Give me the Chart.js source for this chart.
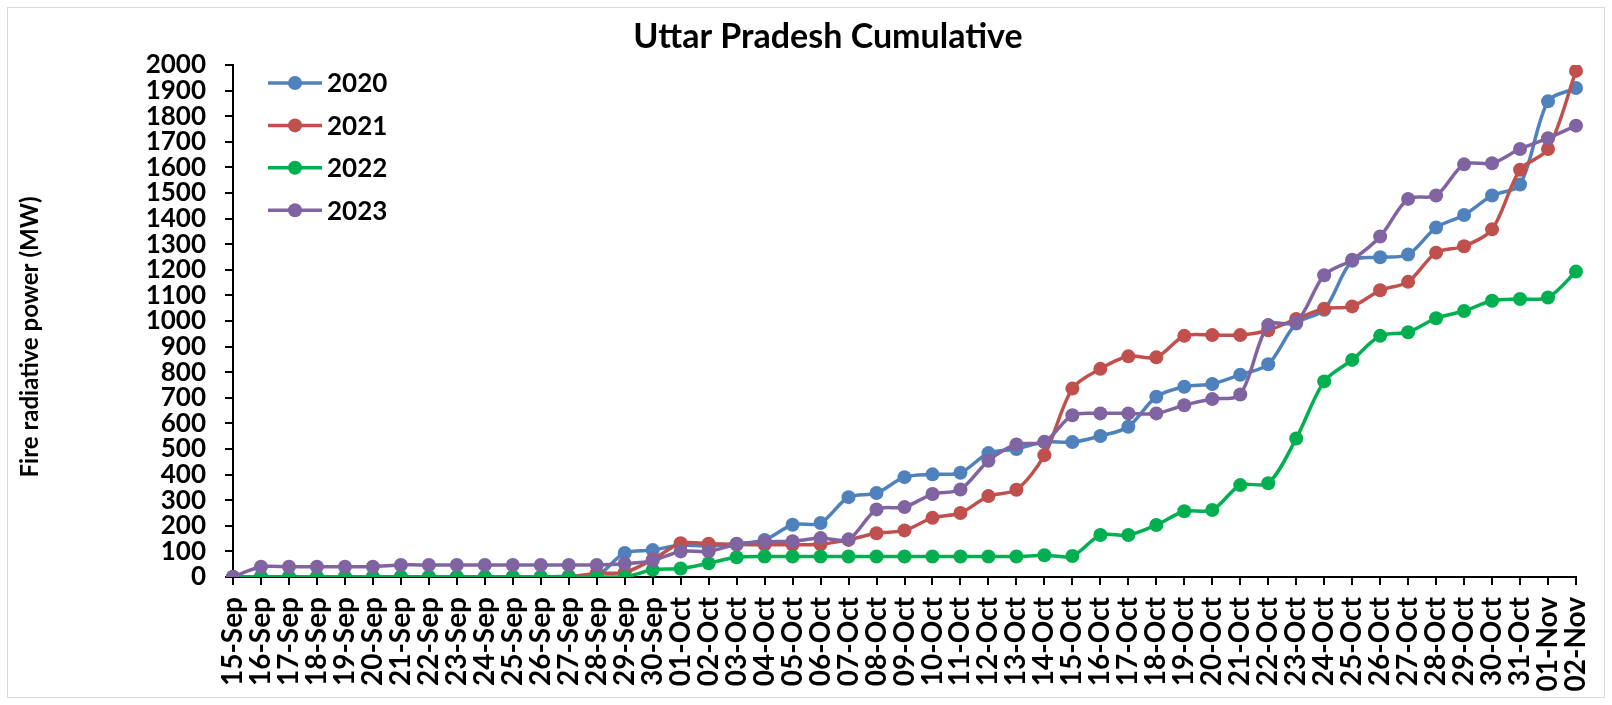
<!DOCTYPE html>
<html lang="en">
<head>
  <meta charset="UTF-8">
  <title>Uttar Pradesh Cumulative</title>
  <style>
    html, body { margin: 0; padding: 0; background: #ffffff; }
    canvas { display: block; }
  </style>
</head>
<body>

  <canvas id="myChart" width="1612" height="705"></canvas>

  <script src="https://cdn.jsdelivr.net/npm/chart.js"></script>
  <script>
const labels = ['15-Sep', '16-Sep', '17-Sep', '18-Sep', '19-Sep', '20-Sep', '21-Sep', '22-Sep', '23-Sep', '24-Sep',
  '25-Sep', '26-Sep', '27-Sep', '28-Sep', '29-Sep', '30-Sep', '01-Oct', '02-Oct', '03-Oct', '04-Oct',
  '05-Oct', '06-Oct', '07-Oct', '08-Oct', '09-Oct', '10-Oct', '11-Oct', '12-Oct', '13-Oct', '14-Oct',
  '15-Oct', '16-Oct', '17-Oct', '18-Oct', '19-Oct', '20-Oct', '21-Oct', '22-Oct', '23-Oct', '24-Oct',
  '25-Oct', '26-Oct', '27-Oct', '28-Oct', '29-Oct', '30-Oct', '31-Oct', '01-Nov', '02-Nov'];

// cumulative fire radiative power (MW)
const frp2020 = [0, 0, 0, 0, 0, 0, 0, 0, 0, 0, 0, 0, 3, 5, 94, 105, 125, 120, 130, 145,
  204, 211, 312, 328, 390, 401, 407, 484, 500, 527, 527, 551, 587, 704, 743, 754, 790, 831, 990, 1044,
  1235, 1249, 1260, 1365, 1414, 1490, 1533, 1858, 1910];
const frp2021 = [0, 0, 0, 0, 0, 0, 0, 0, 0, 0, 0, 0, 0, 15, 18, 68, 132, 130, 127, 126,
  126, 128, 145, 171, 182, 231, 250, 316, 341, 476, 736, 813, 862, 858, 942, 945, 945, 964, 1008, 1048,
  1057, 1120, 1153, 1267, 1292, 1358, 1591, 1672, 1977];
const frp2022 = [0, 0, 0, 0, 0, 0, 0, 0, 0, 0, 0, 0, 0, 0, 0, 28, 33, 54, 77, 80,
  80, 80, 80, 80, 80, 80, 80, 80, 80, 85, 82, 164, 164, 203, 257, 262, 359, 366, 541, 764,
  848, 942, 956, 1011, 1039, 1079, 1086, 1092, 1193];
const frp2023 = [0, 40, 40, 40, 40, 40, 47, 47, 47, 47, 47, 47, 47, 47, 52, 64, 100, 100, 128, 138,
  140, 152, 147, 264, 273, 324, 342, 454, 518, 528, 632, 639, 639, 639, 671, 695, 713, 984, 995, 1179,
  1239, 1330, 1477, 1490, 1612, 1616, 1672, 1714, 1763];

const seriesNames = ['2020', '2021', '2022', '2023'];
const seriesColors = ['#4F81BD', '#C0504D', '#00B050', '#8064A2'];
const yTicks = { min: 0, max: 2000, step: 100 };

const FONT = 'Lato, "Open Sans", sans-serif';

// frame, title, y title and legend drawn on the canvas
const decorPlugin = {
  id: 'decorPlugin',
  beforeDraw: (chart) => {
    const ctx = chart.ctx;
    ctx.save();
    ctx.fillStyle = '#ffffff';
    ctx.fillRect(0, 0, chart.width, chart.height);
    ctx.strokeStyle = '#d9d9d9';
    ctx.lineWidth = 1;
    ctx.strokeRect(7.5, 7.5, chart.width - 15, chart.height - 15);
    ctx.restore();
  },
  afterDraw: (chart) => {
    const ctx = chart.ctx;
    ctx.save();
    ctx.fillStyle = '#000000';
    ctx.textBaseline = 'middle';

    ctx.font = 'bold 34px ' + FONT;
    ctx.textAlign = 'center';
    ctx.fillText('Uttar Pradesh Cumulative', 828, 37);

    ctx.save();
    ctx.translate(30, 337);
    ctx.rotate(-Math.PI / 2);
    ctx.font = 'bold 24px ' + FONT;
    ctx.fillText('Fire radiative power (MW)', 0, 0);
    ctx.restore();

    // legend: line + marker, like the original
    ctx.font = 'bold 26px ' + FONT;
    ctx.textAlign = 'left';
    chart.data.datasets.forEach((ds, i) => {
      const y = 83 + i * 42.4;
      ctx.strokeStyle = ds.borderColor;
      ctx.lineWidth = 3.5;
      ctx.beginPath();
      ctx.moveTo(268, y);
      ctx.lineTo(322, y);
      ctx.stroke();
      ctx.fillStyle = ds.borderColor;
      ctx.beginPath();
      ctx.arc(295, y, 7, 0, Math.PI * 2);
      ctx.fill();
      ctx.fillStyle = '#000000';
      ctx.fillText(ds.label, 327, y + 1);
    });
    ctx.restore();
  }
};

const seriesData = [frp2020, frp2021, frp2022, frp2023];

const ctx = document.getElementById('myChart').getContext('2d');
const myChart = new Chart(ctx, {
  type: 'line',
  data: {
    labels: labels,
    datasets: seriesNames.map((name, i) => ({
      label: name,
      data: seriesData[i],
      borderColor: seriesColors[i],
      backgroundColor: seriesColors[i],
      pointBackgroundColor: seriesColors[i],
      pointBorderWidth: 0,
      pointRadius: 7,
      borderWidth: 3.5,
      tension: 0.3,
      fill: false,
      order: seriesNames.length - i
    }))
  },
  options: {
    responsive: false,
    animation: false,
    events: [],
    layout: {
      padding: { top: 65, left: 0, right: 36, bottom: 0 }
    },
    scales: {
      x: {
        offset: false,
        afterFit: (scale) => {
          scale.height = 128;
          scale.paddingLeft = 0;
          scale.paddingRight = 0;
        },
        grid: {
          drawOnChartArea: false,
          drawTicks: true,
          tickLength: 8,
          color: '#000000',
          lineWidth: 2
        },
        border: { display: true, color: '#000000', width: 2 },
        ticks: {
          autoSkip: false,
          maxRotation: 90,
          minRotation: 90,
          padding: 12,
          color: '#000000',
          font: { family: FONT, size: 28, weight: 'bold' }
        }
      },
      y: {
        min: yTicks.min,
        max: yTicks.max,
        afterFit: (scale) => { scale.width = 233; },
        grid: {
          drawOnChartArea: false,
          drawTicks: true,
          tickLength: 8,
          color: '#000000',
          lineWidth: 2
        },
        border: { display: true, color: '#000000', width: 2 },
        ticks: {
          stepSize: yTicks.step,
          autoSkip: false,
          maxTicksLimit: 50,
          padding: 19,
          color: '#000000',
          font: { family: FONT, size: 26, weight: 'bold' },
          callback: (value) => String(value)
        }
      }
    },
    plugins: {
      legend: { display: false },
      title: { display: false },
      tooltip: { enabled: false }
    }
  },
  plugins: [decorPlugin]
});
  </script>

</body>
</html>
